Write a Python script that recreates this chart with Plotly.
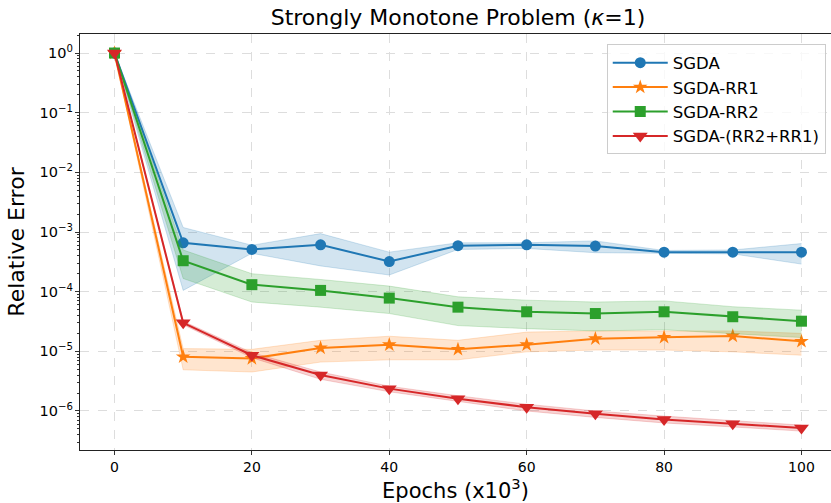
import plotly.graph_objects as go

epochs = [0, 10, 20, 30, 40, 50, 60, 70, 80, 90, 100]

sgda = [1.0, 6.6e-4, 5.1e-4, 6.1e-4, 3.2e-4, 5.9e-4, 6.1e-4, 5.8e-4, 4.6e-4, 4.6e-4, 4.6e-4]
sgda_hi = [1.0, 1.19e-3, 6.0e-4, 9.4e-4, 4.6e-4, 6.6e-4, 6.6e-4, 7.1e-4, 4.9e-4, 5.0e-4, 6.4e-4]
sgda_lo = [1.0, 1.05e-4, 4.4e-4, 2.7e-4, 1.9e-4, 5.1e-4, 5.3e-4, 4.5e-4, 4.4e-4, 4.3e-4, 2.9e-4]

rr1 = [1.0, 8.1e-6, 7.6e-6, 1.14e-5, 1.29e-5, 1.08e-5, 1.29e-5, 1.63e-5, 1.72e-5, 1.81e-5, 1.47e-5]
rr1_hi = [1.0, 1.11e-5, 1.08e-5, 1.53e-5, 1.79e-5, 1.53e-5, 2.1e-5, 2.2e-5, 2.2e-5, 2.2e-5, 2.0e-5]
rr1_lo = [1.0, 4.9e-6, 4.5e-6, 6.6e-6, 7.2e-6, 7.2e-6, 9.8e-6, 1.05e-5, 1.05e-5, 9.8e-6, 8.6e-6]

rr2 = [1.0, 3.3e-4, 1.31e-4, 1.05e-4, 7.8e-5, 5.5e-5, 4.6e-5, 4.3e-5, 4.6e-5, 3.8e-5, 3.2e-5]
rr2_hi = [1.0, 5.0e-4, 2.0e-4, 1.6e-4, 1.24e-4, 8.2e-5, 7.2e-5, 6.7e-5, 7.0e-5, 5.6e-5, 4.9e-5]
rr2_lo = [1.0, 1.66e-4, 6.7e-5, 5.5e-5, 4.3e-5, 2.7e-5, 2.4e-5, 2.2e-5, 2.3e-5, 2.0e-5, 1.7e-5]

rr21 = [1.0, 3.0e-5, 8.6e-6, 4.0e-6, 2.37e-6, 1.6e-6, 1.16e-6, 9.0e-7, 7.2e-7, 6.1e-7, 5.2e-7]
rr21_hi = [1.0, 3.2e-5, 9.5e-6, 4.5e-6, 2.6e-6, 1.8e-6, 1.3e-6, 1.0e-6, 8.2e-7, 6.8e-7, 5.8e-7]
rr21_lo = [1.0, 2.8e-5, 7.8e-6, 3.4e-6, 2.1e-6, 1.45e-6, 1.0e-6, 7.8e-7, 6.3e-7, 5.4e-7, 4.6e-7]

names = ["SGDA", "SGDA-RR1", "SGDA-RR2", "SGDA-(RR2+RR1)"]
colors = ["#1f77b4", "#ff7f0e", "#2ca02c", "#d62728"]
fills = ["rgba(31,119,180,0.2)", "rgba(255,127,14,0.2)", "rgba(44,160,44,0.2)", "rgba(214,39,40,0.2)"]
symbols = ["circle", "star", "square", "triangle-down"]
msizes = [11, 11, 11, 13]

series = [(sgda, sgda_lo, sgda_hi), (rr1, rr1_lo, rr1_hi), (rr2, rr2_lo, rr2_hi), (rr21, rr21_lo, rr21_hi)]

y_ticks = [1, 1e-1, 1e-2, 1e-3, 1e-4, 1e-5, 1e-6]
y_labels = ["10<sup>0</sup>", "10<sup>−1</sup>", "10<sup>−2</sup>", "10<sup>−3</sup>",
            "10<sup>−4</sup>", "10<sup>−5</sup>", "10<sup>−6</sup>"]
x_ticks = [0, 20, 40, 60, 80, 100]

fig = go.Figure()
for (mean, lo, hi), name, c, f, s, ms in zip(series, names, colors, fills, symbols, msizes):
    fig.add_trace(go.Scatter(x=epochs, y=lo, mode="lines", line=dict(color=f, width=1),
                             showlegend=False, hoverinfo="skip"))
    fig.add_trace(go.Scatter(x=epochs, y=hi, mode="lines", line=dict(color=f, width=1),
                             fill="tonexty", fillcolor=f, showlegend=False, hoverinfo="skip"))
    fig.add_trace(go.Scatter(x=epochs, y=mean, mode="lines+markers", name=name,
                             line=dict(color=c, width=2),
                             marker=dict(symbol=s, size=ms, color=c, line=dict(width=0))))

font = "DejaVu Sans"
fig.update_layout(
    width=831, height=503,
    margin=dict(l=80, r=0, t=34, b=53),
    paper_bgcolor="white", plot_bgcolor="white",
    font=dict(family=font, color="#000000"),
    title=dict(text="Strongly Monotone Problem (<i>κ</i>=1)", x=458 / 831, xanchor="center",
               xref="container", y=1 - 17 / 503, yref="container", yanchor="middle",
               font=dict(size=22, family=font)),
    legend=dict(x=0.993, xanchor="right", y=0.975, yanchor="top", traceorder="normal",
                bgcolor="rgba(255,255,255,0.8)", bordercolor="#cccccc", borderwidth=1,
                font=dict(size=16.5, family=font), tracegroupgap=0, itemwidth=55),
    showlegend=True,
)
fig.update_xaxes(
    range=[-5.02, 104.3], tickvals=x_ticks, ticks="outside", ticklen=4, tickwidth=1,
    tickcolor="#333333", showline=True, linecolor="#222222", linewidth=1.2, mirror=True,
    showgrid=True, gridcolor="#dddddd", griddash="dash", gridwidth=1, zeroline=False,
    tickfont=dict(size=14, family=font),
    title=dict(text="Epochs (x10<sup>3</sup>)", font=dict(size=21, family=font), standoff=10),
)
fig.update_yaxes(
    type="log", range=[-6.654, 0.319], tickvals=y_ticks, ticktext=y_labels,
    ticks="outside", ticklen=4, tickwidth=1, tickcolor="#333333",
    showline=True, linecolor="#222222", linewidth=1.2, mirror=False,
    showgrid=True, gridcolor="#dddddd", griddash="dash", gridwidth=1, zeroline=False,
    minor=dict(ticks="outside", ticklen=2, tickcolor="#333333", dtick="D1", showgrid=False),
    tickfont=dict(size=14.5, family=font), ticklabelstandoff=-1,
    title=dict(text="Relative Error", font=dict(size=22, family=font), standoff=8),
)

fig.write_html("out.html")
